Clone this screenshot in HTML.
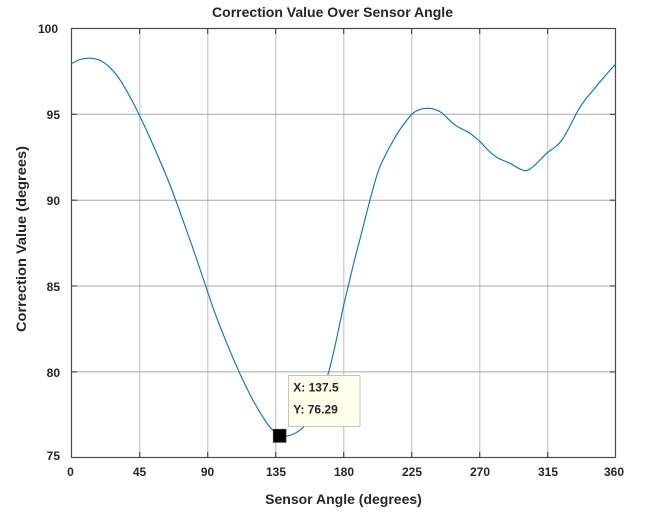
<!DOCTYPE html>
<html>
<head>
<meta charset="utf-8">
<style>
  html, body { margin:0; padding:0; background:#ffffff; }
  body { width:650px; height:515px; overflow:hidden; }
  svg { display:block; }
  text { font-family: "Liberation Sans", Arial, sans-serif; font-weight:bold; fill:#262626; }
</style>
</head>
<body>
<svg id="chart" width="650" height="515" viewBox="0 0 650 515" xmlns="http://www.w3.org/2000/svg">
  <rect x="0" y="0" width="650" height="515" fill="#ffffff"/>

  <!-- vertical grid -->
  <g stroke="#d2d2d2" stroke-width="1.5">
    <line x1="139.7" y1="28.5" x2="139.7" y2="457.5"/>
    <line x1="207.7" y1="28.5" x2="207.7" y2="457.5"/>
    <line x1="275.7" y1="28.5" x2="275.7" y2="457.5"/>
    <line x1="343.7" y1="28.5" x2="343.7" y2="457.5"/>
    <line x1="411.7" y1="28.5" x2="411.7" y2="457.5"/>
    <line x1="479.7" y1="28.5" x2="479.7" y2="457.5"/>
    <line x1="547.7" y1="28.5" x2="547.7" y2="457.5"/>
  </g>
  <!-- horizontal grid -->
  <g stroke="#a8a8a8" stroke-width="1">
    <line x1="71.5" y1="114.3" x2="615.5" y2="114.3"/>
    <line x1="71.5" y1="200.2" x2="615.5" y2="200.2"/>
    <line x1="71.5" y1="286.0" x2="615.5" y2="286.0"/>
    <line x1="71.5" y1="371.9" x2="615.5" y2="371.9"/>
  </g>

  <!-- axis box -->
  <rect x="71.5" y="28.5" width="544" height="429" fill="none" stroke="#4a4a4a" stroke-width="1.2"/>

  <!-- ticks -->
  <g stroke="#4a4a4a" stroke-width="1.2">
    <line x1="139.7" y1="457.5" x2="139.7" y2="452"/><line x1="139.7" y1="28.5" x2="139.7" y2="34"/>
    <line x1="207.7" y1="457.5" x2="207.7" y2="452"/><line x1="207.7" y1="28.5" x2="207.7" y2="34"/>
    <line x1="275.7" y1="457.5" x2="275.7" y2="452"/><line x1="275.7" y1="28.5" x2="275.7" y2="34"/>
    <line x1="343.7" y1="457.5" x2="343.7" y2="452"/><line x1="343.7" y1="28.5" x2="343.7" y2="34"/>
    <line x1="411.7" y1="457.5" x2="411.7" y2="452"/><line x1="411.7" y1="28.5" x2="411.7" y2="34"/>
    <line x1="479.7" y1="457.5" x2="479.7" y2="452"/><line x1="479.7" y1="28.5" x2="479.7" y2="34"/>
    <line x1="547.7" y1="457.5" x2="547.7" y2="452"/><line x1="547.7" y1="28.5" x2="547.7" y2="34"/>
    <line x1="71.5" y1="114.3" x2="77" y2="114.3"/><line x1="615.5" y1="114.3" x2="610" y2="114.3"/>
    <line x1="71.5" y1="200.2" x2="77" y2="200.2"/><line x1="615.5" y1="200.2" x2="610" y2="200.2"/>
    <line x1="71.5" y1="286.0" x2="77" y2="286.0"/><line x1="615.5" y1="286.0" x2="610" y2="286.0"/>
    <line x1="71.5" y1="371.9" x2="77" y2="371.9"/><line x1="615.5" y1="371.9" x2="610" y2="371.9"/>
  </g>

  <!-- y tick labels -->
  <g font-size="12" text-anchor="end">
    <text x="58" y="33">100</text>
    <text x="60" y="119">95</text>
    <text x="60" y="205">90</text>
    <text x="60" y="291">85</text>
    <text x="60" y="377">80</text>
    <text x="60" y="460">75</text>
  </g>
  <!-- x tick labels -->
  <g font-size="12" text-anchor="middle">
    <text x="70.5" y="476">0</text>
    <text x="139.5" y="476">45</text>
    <text x="207.5" y="476">90</text>
    <text x="276" y="476">135</text>
    <text x="344" y="476">180</text>
    <text x="412" y="476">225</text>
    <text x="480" y="476">270</text>
    <text x="548" y="476">315</text>
    <text x="614" y="476">360</text>
  </g>

  <!-- title and axis labels -->
  <text x="212" y="17" font-size="14" textLength="241" lengthAdjust="spacingAndGlyphs" fill="#000000">Correction Value Over Sensor Angle</text>
  <text x="343.5" y="504" font-size="14" text-anchor="middle">Sensor Angle (degrees)</text>
  <text transform="translate(26,239) rotate(-90)" font-size="14" text-anchor="middle" textLength="186" lengthAdjust="spacingAndGlyphs">Correction Value (degrees)</text>

  <!-- data curve (fallback polyline; replaced with smooth path by script) -->
  <polyline id="curve" fill="none" stroke="#0072BD" stroke-width="1.1" stroke-linejoin="round"
    points="71.7,63.5 80,59.5 90,58.2 100,60.4 110,67.7 120,79.8 131.7,100 140,116.5 150,138 160,161 170,185 180,212 190,240 200,269 207.7,292 215,313.2 225,338.8 235,362.7 245,384.5 255,403.9 265,420.3 272,429.4 279.5,435.4 287,436 295,433.3 303.3,427.3 312,415 320,398 328.3,373.3 335,346 343.3,307 348.3,285.8 354,262 360,239 370,200 378.3,171 386,154 393.3,140.5 400,129.5 411.7,114.3 420,109.5 428,108.3 435,109.5 442,113 455,125 470,133.3 480,141.7 488,150 497,157.5 510,163.3 518,168 525,170.7 530,169 537,163 546.7,153.3 555,147 562,140 570,126 578.3,110 585,100 593.3,90 605,76 615.7,64"/>

  <!-- datatip -->
  <rect x="273.3" y="429.3" width="12.7" height="13" fill="#000000" stroke="#333333" stroke-width="0.8"/>
  <rect x="288.5" y="375.5" width="71.5" height="51" fill="#ffffeb" stroke="#c4c4c4" stroke-width="1"/>
  <text x="293.3" y="391.7" font-size="12" fill="#000000">X: 137.5</text>
  <text x="293.3" y="413.3" font-size="12" fill="#000000">Y: 76.29</text>
</svg>
<script>
(function(){
  var pl = document.getElementById('curve');
  if(!pl) return;
  var raw = pl.getAttribute('points').trim().split(/\s+/).map(function(s){var a=s.split(',');return [parseFloat(a[0]),parseFloat(a[1])];});
  var d = 'M' + raw[0][0] + ',' + raw[0][1];
  for (var i=0;i<raw.length-1;i++){
    var p0 = raw[i-1]||raw[i], p1 = raw[i], p2 = raw[i+1], p3 = raw[i+2]||raw[i+1];
    var c1x = p1[0] + (p2[0]-p0[0])/6, c1y = p1[1] + (p2[1]-p0[1])/6;
    var c2x = p2[0] - (p3[0]-p1[0])/6, c2y = p2[1] - (p3[1]-p1[1])/6;
    d += ' C' + c1x.toFixed(2)+','+c1y.toFixed(2)+' '+c2x.toFixed(2)+','+c2y.toFixed(2)+' '+p2[0]+','+p2[1];
  }
  var ns='http://www.w3.org/2000/svg';
  var path=document.createElementNS(ns,'path');
  path.setAttribute('d',d);
  path.setAttribute('fill','none');
  path.setAttribute('stroke','#0072BD');
  path.setAttribute('stroke-width','1.1');
  pl.parentNode.replaceChild(path,pl);
})();
</script>
</body>
</html>
